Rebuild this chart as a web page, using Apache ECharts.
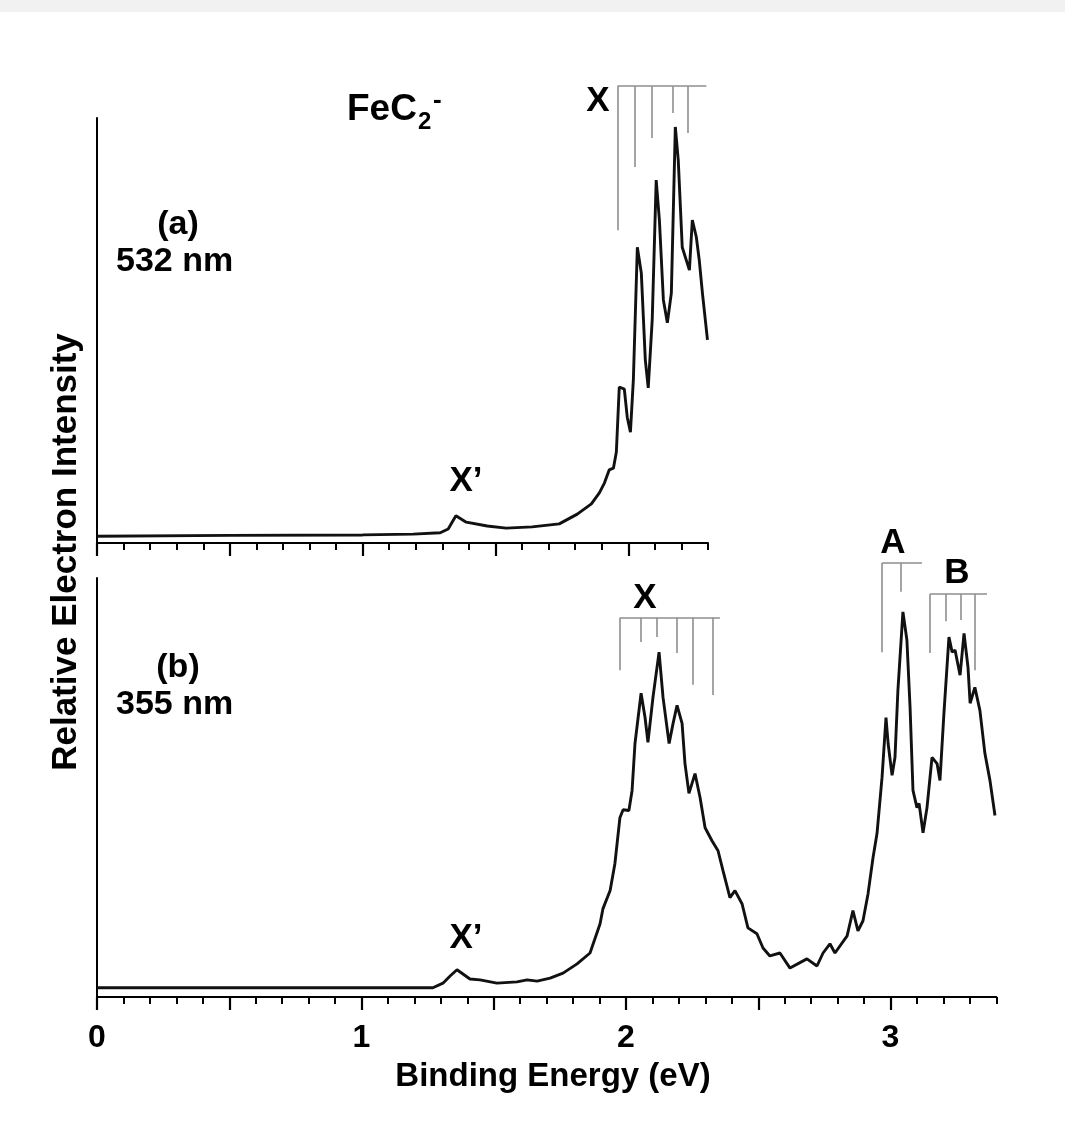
<!DOCTYPE html>
<html><head><meta charset="utf-8">
<script src="https://cdn.jsdelivr.net/npm/echarts@6/dist/echarts.min.js"></script>
<style>html,body{margin:0;padding:0;background:#fff}#c{width:1065px;height:1131px}</style>
</head><body><div id="c"></div>
<script>
// ---- Data (binding energy in eV, relative intensity 0-100 per panel) ----
const topEnergy = [0, 0.5, 1.0, 1.19, 1.292, 1.322, 1.351, 1.39, 1.469, 1.54, 1.638, 1.74, 1.808, 1.861, 1.891, 1.91, 1.928, 1.944, 1.955, 1.966, 1.985, 1.996, 2.008, 2.019, 2.034, 2.049, 2.064, 2.075, 2.09, 2.105, 2.117, 2.132, 2.147, 2.162, 2.177, 2.188, 2.203, 2.23, 2.241, 2.256, 2.267, 2.279, 2.298];
const topIntensity = [1.6, 1.8, 1.9, 2.1, 2.4, 3.3, 6.4, 4.9, 4.0, 3.5, 3.8, 4.5, 6.8, 9.2, 11.8, 14.1, 17.2, 17.6, 21.4, 36.7, 36.2, 29.6, 26.1, 38.4, 69.6, 63.5, 43.1, 36.5, 52.5, 85.4, 76.0, 57.2, 51.8, 58.8, 97.9, 90.1, 69.6, 64.2, 76.0, 72.0, 66.6, 58.8, 47.8];

const bottomEnergy = [0, 0.5, 1.0, 1.27, 1.308, 1.335, 1.361, 1.41, 1.448, 1.512, 1.588, 1.626, 1.664, 1.713, 1.762, 1.815, 1.864, 1.902, 1.913, 1.94, 1.958, 1.977, 1.989, 2.011, 2.023, 2.034, 2.057, 2.072, 2.083, 2.102, 2.125, 2.14, 2.163, 2.178, 2.193, 2.212, 2.223, 2.238, 2.261, 2.28, 2.299, 2.325, 2.348, 2.367, 2.393, 2.412, 2.439, 2.461, 2.495, 2.518, 2.544, 2.582, 2.62, 2.684, 2.722, 2.745, 2.771, 2.79, 2.836, 2.858, 2.877, 2.896, 2.915, 2.934, 2.949, 2.968, 2.983, 2.991, 3.006, 3.017, 3.028, 3.047, 3.062, 3.074, 3.085, 3.1, 3.108, 3.123, 3.138, 3.157, 3.176, 3.187, 3.202, 3.221, 3.233, 3.244, 3.263, 3.278, 3.293, 3.301, 3.319, 3.338, 3.357, 3.376, 3.395];
const bottomIntensity = [2.2, 2.2, 2.2, 2.2, 3.3, 5.0, 6.5, 4.3, 4.1, 3.3, 3.6, 4.1, 3.8, 4.5, 5.7, 7.9, 10.5, 17.5, 21.1, 25.4, 31.8, 42.8, 44.7, 44.5, 49.3, 60.5, 72.5, 66.7, 60.8, 71.5, 82.3, 71.5, 60.5, 65.3, 69.6, 65.3, 55.7, 48.6, 53.3, 47.6, 40.4, 37.3, 34.9, 30.1, 23.7, 25.4, 22.2, 16.5, 15.1, 11.7, 9.8, 10.5, 6.9, 9.1, 7.4, 10.5, 12.7, 10.5, 14.6, 20.6, 15.8, 18.2, 24.6, 33.3, 39.0, 52.4, 66.7, 60.5, 52.9, 57.2, 73.2, 91.9, 85.2, 69.1, 49.3, 45.2, 46.2, 39.2, 45.2, 57.2, 55.7, 51.7, 67.7, 85.9, 82.3, 82.8, 76.8, 86.8, 78.7, 70.1, 73.9, 68.4, 58.1, 51.7, 43.3];

// Stick progressions: positions (eV), stick tip level, bar level, bar end
const topXSticks = [1.959, 2.023, 2.090, 2.166, 2.222];
const topXTips = [73.6, 88.5, 95.3, 101.2, 96.5];
const topXBar = {level: 107.5, end: 2.294};

const botXSticks = [1.977, 2.057, 2.117, 2.193, 2.253, 2.329];
const botXTips = [78.0, 84.7, 85.9, 82.1, 74.5, 72.1];
const botXBar = {level: 90.5, end: 2.355};

const botASticks = [2.968, 3.040];
const botATips = [82.3, 96.7];
const botABar = {level: 103.6, end: 3.119};

const botBSticks = [3.149, 3.210, 3.267, 3.319];
const botBTips = [82.1, 89.7, 90.0, 78.0];
const botBBar = {level: 96.2, end: 3.365};

const majorTicksTop = [0, 0.5, 1, 1.5, 2];
const majorTicksBottom = [0, 0.5, 1, 1.5, 2, 2.5, 3];
const tickLabels = [0, 1, 2, 3];

// ---- Build ----
const FONT = "'Liberation Sans', Arial, Helvetica, sans-serif";
function pairs(xs, ys) { return xs.map((x, i) => [x, ys[i]]); }
function stickSegments(pos, tips, bar) {
  const segs = [{coords: [[pos[0], bar.level], [bar.end, bar.level]]}];
  pos.forEach((p, i) => segs.push({coords: [[p, bar.level], [p, tips[i]]]}));
  return segs;
}
const stickStyle = {color: '#8e8e8e', width: 1.6, opacity: 1};

function minorAxis(grid, max) {
  return {gridIndex: grid, type: 'value', position: 'bottom', min: 0, max: max, interval: 0.1,
    axisLine: {show: true, onZero: false, lineStyle: {color: '#000', width: 2}},
    axisTick: {show: true, inside: false, length: 7, lineStyle: {color: '#000', width: 2}},
    axisLabel: {show: false}, splitLine: {show: false}};
}
function majorAxis(grid, max, ticks, labels) {
  return {gridIndex: grid, type: 'value', position: 'bottom', offset: 0, min: 0, max: max, interval: 0.5,
    axisLine: {show: false, onZero: false},
    axisTick: {show: true, inside: false, length: 13, customValues: ticks, lineStyle: {color: '#000', width: 2.2}},
    axisLabel: labels ? {show: true, customValues: labels, margin: 25, fontSize: 32, fontWeight: 'bold', color: '#000', fontFamily: FONT,
      formatter: v => String(Math.round(v))} : {show: false},
    splitLine: {show: false}};
}
function yAx(grid) {
  return {gridIndex: grid, type: 'value', position: 'left', min: 0, max: 100,
    axisLine: {show: true, onZero: false, lineStyle: {color: '#000', width: 2}},
    axisTick: {show: false}, axisLabel: {show: false}, splitLine: {show: false}};
}
function txt(x, y, text, size, align) {
  return {type: 'text', x: x, y: y, z: 100, style: {text: text, fill: '#000',
    font: 'bold ' + size + 'px ' + FONT, align: align || 'center', verticalAlign: 'middle'}};
}

const chart = echarts.init(document.getElementById('c'), null, {renderer: 'canvas'});
chart.setOption({
  backgroundColor: '#fff',
  animation: false,
  grid: [
    {left: 97, top: 118, width: 611, height: 425},
    {left: 97, top: 578, width: 899.3, height: 419}
  ],
  xAxis: [minorAxis(0, 2.3), majorAxis(0, 2.3, majorTicksTop, null),
          minorAxis(1, 3.4), majorAxis(1, 3.4, majorTicksBottom, tickLabels)],
  yAxis: [yAx(0), yAx(1)],
  series: [
    {type: 'line', xAxisIndex: 0, yAxisIndex: 0, data: pairs(topEnergy, topIntensity), showSymbol: false,
      lineStyle: {color: '#111', width: 2.9}, z: 5},
    {type: 'line', xAxisIndex: 2, yAxisIndex: 1, data: pairs(bottomEnergy, bottomIntensity), showSymbol: false,
      lineStyle: {color: '#111', width: 2.9}, z: 5},
    {type: 'lines', coordinateSystem: 'cartesian2d', xAxisIndex: 0, yAxisIndex: 0, clip: false,
      data: stickSegments(topXSticks, topXTips, topXBar), lineStyle: stickStyle, z: 3},
    {type: 'lines', coordinateSystem: 'cartesian2d', xAxisIndex: 2, yAxisIndex: 1, clip: false,
      data: stickSegments(botXSticks, botXTips, botXBar), lineStyle: stickStyle, z: 3},
    {type: 'lines', coordinateSystem: 'cartesian2d', xAxisIndex: 2, yAxisIndex: 1, clip: false,
      data: stickSegments(botASticks, botATips, botABar), lineStyle: stickStyle, z: 3},
    {type: 'lines', coordinateSystem: 'cartesian2d', xAxisIndex: 2, yAxisIndex: 1, clip: false,
      data: stickSegments(botBSticks, botBTips, botBBar), lineStyle: stickStyle, z: 3}
  ],
  graphic: [
    {type: 'rect', shape: {x: 0, y: 0, width: 1065, height: 12}, style: {fill: '#f1f1f1'}, z: 0},
    txt(347, 110, 'FeC', 37, 'left'),
    txt(418, 122, '2', 24, 'left'),
    txt(433, 101, '-', 26, 'left'),
    txt(598, 101, 'X', 35),
    txt(466, 481, 'X\u2019', 35),
    txt(178, 225, '(a)', 34),
    txt(116, 262, '532 nm', 34, 'left'),
    txt(178, 668, '(b)', 34),
    txt(116, 705, '355 nm', 34, 'left'),
    txt(645, 598, 'X', 35),
    txt(893, 543, 'A', 35),
    txt(957, 573, 'B', 35),
    txt(466, 938, 'X\u2019', 35),
    {type: 'text', x: 66, y: 552, rotation: Math.PI / 2, z: 100,
      style: {text: 'Relative Electron Intensity', fill: '#000', font: 'bold 35px ' + FONT, align: 'center', verticalAlign: 'middle'}},
    txt(553, 1077, 'Binding Energy (eV)', 33)
  ]
});
</script></body></html>
